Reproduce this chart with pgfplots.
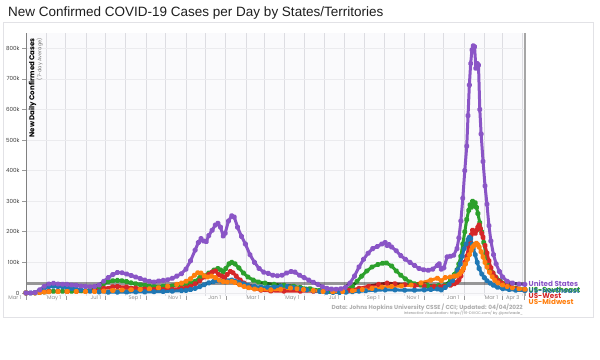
\documentclass[border=0pt]{standalone}
\usepackage{pgfplots}
\pgfplotsset{compat=1.18}
\usepackage{fontspec}
\setmainfont{Poppins}
\newfontfamily\titlefont{Liberation Sans}
\definecolor{cUS}{HTML}{8A55C6}
\definecolor{cSE}{HTML}{2CA02C}
\definecolor{cW}{HTML}{D62728}
\definecolor{cNE}{HTML}{1F77B4}
\definecolor{cMW}{HTML}{FF7F0E}
\definecolor{gridc}{HTML}{DDDDE2}
\definecolor{bgc}{HTML}{FAFAFC}
\definecolor{framec}{HTML}{E2E2E6}

\pgfplotstableread{
d v
0 0
7 100
14 1500
21 10000
28 22000
35 29000
42 31500
49 29000
56 28500
63 28000
70 26000
77 25000
84 23000
91 21500
98 20500
105 21500
112 26000
119 38000
126 50000
133 60000
140 67000
147 66000
154 62000
161 57000
168 52000
175 47000
182 42000
189 38000
196 36000
203 39000
210 41000
217 43000
224 48000
231 55000
238 63000
245 78000
252 105000
259 140000
264 165000
268 178000
272 170000
276 168000
280 188000
285 205000
290 222000
294 228000
298 215000
302 186000
305 195000
310 235000
315 252000
319 248000
324 215000
330 185000
336 160000
343 125000
350 100000
357 80000
364 68000
371 64000
378 58000
385 56000
392 58000
399 65000
406 70000
412 68000
419 58000
426 50000
433 42000
440 35000
447 28000
454 20000
461 15000
468 12500
475 12000
482 13500
489 18000
496 32000
503 55000
510 85000
517 110000
524 130000
531 145000
538 152000
545 160000
550 165000
553 155000
556 158000
560 150000
567 138000
574 122000
581 110000
588 100000
595 90000
602 80000
609 76000
616 74000
623 78000
630 90000
633 95000
636 78000
640 82000
645 118000
650 120000
655 123000
660 145000
663 180000
666 235000
669 310000
672 400000
675 480000
677 580000
679 680000
681 750000
683 795000
685 808000
687 805000
689 735000
691 750000
693 745000
695 600000
697 520000
700 430000
703 350000
706 290000
709 220000
712 170000
716 125000
720 95000
725 70000
730 52000
737 38000
745 32000
755 29000
764 28000
}\dUS

\pgfplotstableread{
d v
0 0
14 300
21 1500
28 3500
35 5000
42 5500
56 5500
70 5500
84 7000
98 10000
105 13000
112 20000
119 30000
126 37000
133 40000
140 41000
147 40000
154 37000
161 33000
168 30000
175 27000
182 25000
189 22000
196 21000
210 22000
224 23000
238 26000
245 28000
252 33000
259 38000
266 50000
272 55000
280 65000
288 75000
294 80000
298 75000
302 68000
306 80000
311 95000
315 100000
320 95000
326 82000
333 65000
340 52000
348 42000
356 36000
366 32000
380 28000
395 25000
410 22000
420 18000
435 14000
450 9000
465 6000
480 6500
490 10000
500 22000
507 38000
514 55000
522 72000
530 85000
539 93000
546 97000
552 98000
560 88000
567 72000
574 58000
581 46000
588 36000
595 30000
605 26000
615 24000
625 22000
632 24000
636 19000
642 26000
650 40000
656 60000
660 75000
663 95000
666 120000
669 160000
672 200000
675 240000
678 270000
680 288000
682 280000
684 300000
686 285000
688 295000
690 280000
692 260000
695 230000
698 200000
701 165000
704 130000
707 100000
711 80000
715 65000
720 50000
726 40000
733 30000
740 22000
750 16000
764 12000
}\dSE

\pgfplotstableread{
d v
0 0
14 500
21 2000
28 4000
35 5500
49 5500
63 5000
77 5000
91 6000
105 9000
119 15000
133 20000
140 21000
154 19000
168 16000
182 13000
196 11000
210 11000
224 12000
238 15000
245 17000
252 22000
259 30000
266 40000
273 52000
280 60000
285 68000
290 72000
295 60000
300 55000
304 50000
308 60000
313 70000
317 66000
322 55000
328 42000
334 32000
341 22000
350 14000
360 9000
375 6500
395 6000
420 6000
440 5500
460 4500
480 5000
495 9000
510 15000
525 22000
540 28000
553 32000
565 30000
580 27000
595 24000
610 23000
625 21000
634 20000
640 22000
650 25000
656 30000
660 35000
663 42000
666 55000
669 75000
672 100000
675 120000
678 150000
680 172000
682 190000
684 205000
686 200000
688 195000
690 205000
692 215000
694 222000
696 210000
698 195000
700 182000
703 155000
706 130000
709 105000
712 82000
715 65000
719 52000
724 40000
729 32000
735 25000
742 20000
750 14000
764 9000
}\dW

\pgfplotstableread{
d v
0 0
7 100
14 1500
21 8000
28 16000
35 21000
42 22000
49 21000
56 20000
63 18000
70 15000
77 12500
84 10000
91 7500
98 5500
112 3500
126 2800
140 2800
154 3000
168 3200
182 3500
196 4000
210 4800
224 6000
238 7500
245 8500
252 11000
259 15000
266 20000
273 27000
280 33000
287 37000
294 40000
300 38000
305 36000
310 40000
315 42000
320 39000
326 35000
333 30000
340 25000
350 21000
360 19000
370 18500
380 19500
390 21000
400 21000
410 18000
420 14000
430 10000
440 7000
450 4500
460 2500
470 1800
480 1800
490 2500
500 4000
510 5500
520 7000
535 9000
550 10000
565 10000
580 9000
595 9000
610 10000
620 11000
630 13000
636 10000
642 18000
648 28000
653 40000
657 55000
661 75000
665 95000
668 120000
671 145000
674 160000
677 175000
679 182000
681 178000
683 160000
685 145000
688 125000
691 100000
694 80000
698 62000
702 50000
706 40000
711 32000
716 25000
722 19000
730 14000
740 11000
750 9000
764 8000
}\dNE

\pgfplotstableread{
d v
0 0
14 300
21 1500
28 3000
35 4000
49 4500
63 5000
77 5000
91 4500
105 4500
119 6000
133 8000
147 9500
161 10500
175 11500
189 13500
203 17000
217 22000
231 28000
238 32000
245 38000
252 46000
258 58000
263 66000
268 65000
273 56000
278 52000
284 55000
290 50000
296 42000
302 37000
308 36000
315 38000
320 34000
327 27000
334 21000
341 17000
350 13000
360 11000
375 10000
390 12000
405 16000
415 14000
425 11000
440 8000
455 5000
470 4000
485 4500
500 7000
515 11000
530 15000
545 19000
560 21000
575 23000
590 26000
605 33000
620 42000
630 48000
636 40000
642 50000
650 52000
656 55000
660 56000
664 62000
667 70000
670 80000
673 95000
676 110000
679 125000
682 140000
684 150000
686 155000
688 160000
690 162000
692 158000
694 150000
697 135000
700 118000
703 100000
706 85000
710 68000
714 53000
718 42000
723 33000
730 26000
737 21000
745 17000
755 14000
764 12000
}\dMW

\begin{document}
\begin{tikzpicture}
\useasboundingbox (0,0) rectangle (600bp,-360bp);
\fill[white] (0,0) rectangle (600bp,-360bp);
\draw[draw=framec, line width=0.8bp] (3bp,-22bp) rectangle (593bp,-317bp);
\node[anchor=base west, font=\titlefont\fontsize{13.5bp}{15bp}\selectfont, text={rgb,255:red,30;green,30;blue,30}, inner sep=0] at (8bp,-16.5bp) {New Confirmed COVID-19 Cases per Day by States/Territories};
\begin{axis}[
  at={(26bp,-296bp)}, anchor=south west,
  scale only axis, width=499.5bp, height=263bp,
  xmin=0, xmax=765, ymin=-10000, ymax=850000,
  scaled y ticks=false, scaled x ticks=false,
  axis background/.style={fill=bgc},
  axis line style={draw=none},
  /pgf/number format/assume math mode=true,
  xtick={0,61,122,184,245,306,365,426,487,549,610,671,730,763},
  xticklabels={Mar 1,May 1,Jul 1,Sep 1,Nov 1,Jan 1,Mar 1,May 1,Jul 1,Sep 1,Nov 1,Jan 1,Mar 1,Apr 3},
  minor xtick={31,92,153,214,275,337,396,457,518,579,640,702,761},
  ytick={0,100000,200000,300000,400000,500000,600000,700000,800000},
  yticklabels={0,100k,200k,300k,400k,500k,600k,700k,800k},
  xtick pos=bottom, ytick pos=left,
  tick align=outside, major tick length=3.5bp, minor tick length=0bp,
  tick style={draw=gray!80, line width=0.6bp},
  xmajorgrids, xminorgrids, ymajorgrids,
  x grid style={draw=gridc, line width=0.9bp},
  y grid style={draw=gridc!60, line width=0.7bp},
  xticklabel style={font=\fontsize{5.2bp}{6bp}\selectfont, text=gray!90, anchor=east, xshift=-1.2bp, yshift=1.5bp},
  yticklabel style={font=\fontsize{5.6bp}{6bp}\selectfont, text=black!75, anchor=east, xshift=0.5bp},
  every axis plot/.append style={line width=3bp, line join=round, mark=*, mark size=1.35bp},
  clip=false,
]
\addplot[cSE, mark options={fill=cSE!85!black, draw=none}] table[x=d,y=v] {\dSE};
\addplot[cW, mark options={fill=cW!85!black, draw=none}] table[x=d,y=v] {\dW};
\addplot[cNE, mark options={fill=cNE!85!black, draw=none}] table[x=d,y=v] {\dNE};
\addplot[cMW, mark options={fill=cMW!85!black, draw=none}] table[x=d,y=v] {\dMW};
\addplot[cUS, mark options={fill=cUS!85!black, draw=none}] table[x=d,y=v] {\dUS};
\addplot[black, opacity=0.4, line width=3.6bp, mark=none] coordinates {(0,31000) (764,31000)};
\draw[black!35, line width=1.8bp] (axis cs:764,-10000) -- (axis cs:764,850000);
\draw[gray, line width=0.8bp] (rel axis cs:0,0) -- (rel axis cs:0,1);
\end{axis}
\node[rotate=90, anchor=north east, inner sep=0, font=\bfseries\fontsize{7bp}{7bp}\selectfont] at (28.5bp,-38bp) {New Daily Confirmed Cases};
\node[rotate=90, anchor=north east, inner sep=0, text=black!55, font=\fontsize{5bp}{5bp}\selectfont] at (36.5bp,-38bp) {(7-day Average)};
\begin{scope}[every node/.style={anchor=west, inner sep=0, font=\bfseries\fontsize{7.2bp}{8bp}\selectfont}]
\node[text=cUS] at (528.5bp,-284bp) {United States};
\node[text=cSE] at (528.5bp,-290bp) {US-Southeast};
\node[text=cNE!85!black, opacity=0.85] at (528.5bp,-290.6bp) {US-Northeast};
\node[text=cW] at (528.5bp,-295.8bp) {US-West};
\node[text=cMW] at (528.5bp,-301.3bp) {US-Midwest};
\end{scope}
\node[anchor=east, inner sep=0, text=black!32, font=\bfseries\fontsize{5.8bp}{6bp}\selectfont] at (523bp,-308bp) {Data: Johns Hopkins University CSSE / CCI; Updated: 04/04/2022};
\node[anchor=east, inner sep=0, text=black!45, font=\fontsize{3.7bp}{4bp}\selectfont] at (523bp,-313.5bp) {Interactive Visualization: https://91-DIVOC.com/ by @profwade\_};
\end{tikzpicture}
\end{document}
